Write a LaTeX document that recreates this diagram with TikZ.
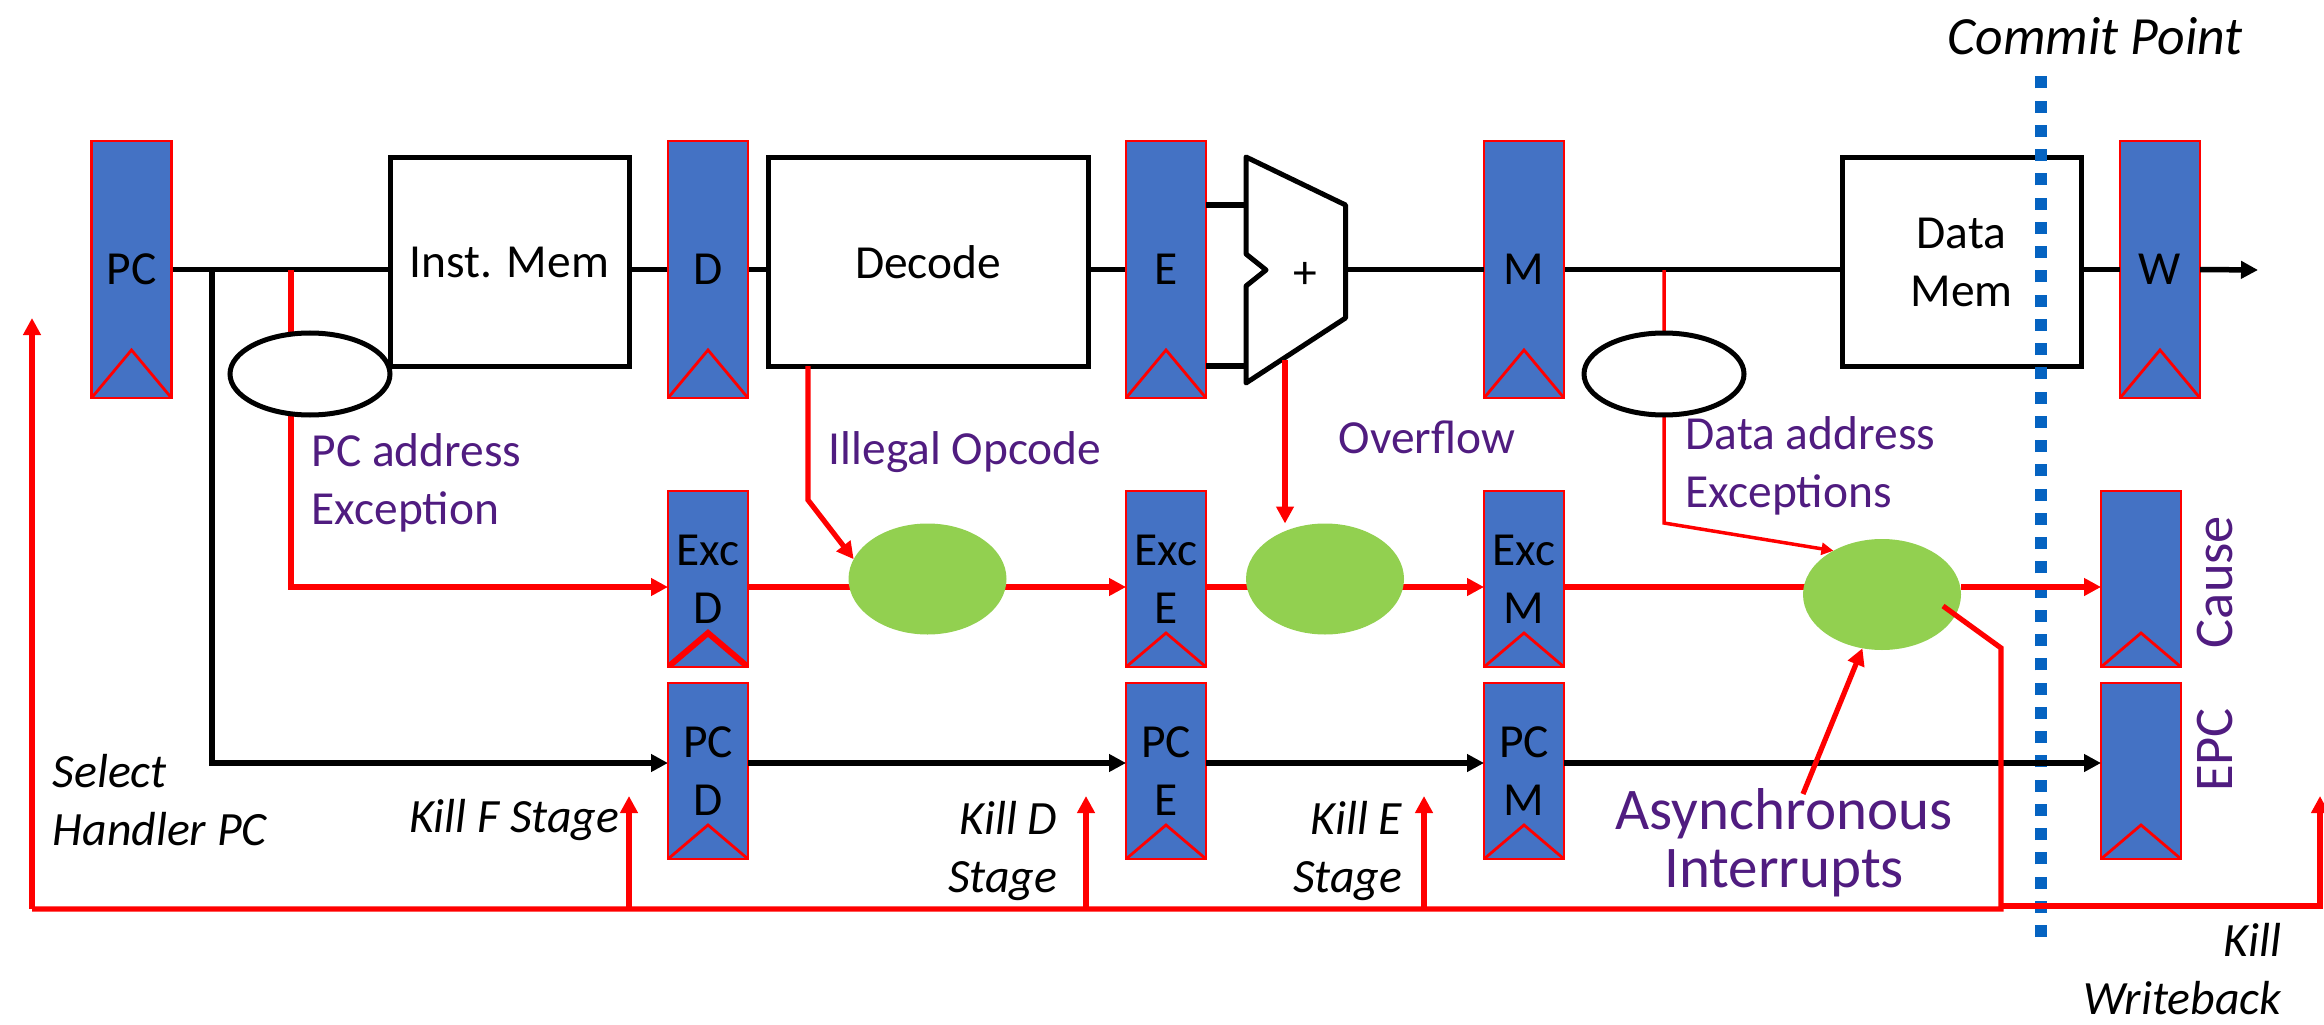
\documentclass[tikz,border=0pt]{standalone}
\usepackage{fontspec}
\setmainfont{Carlito}
\usetikzlibrary{positioning, arrows.meta, shapes.geometric, backgrounds}
\definecolor{regblue}{HTML}{4472C4}
\definecolor{okgreen}{HTML}{92D050}
\definecolor{note}{HTML}{501C80}
\definecolor{commitblue}{HTML}{0563C1}
\tikzset{
  >={Triangle[length=.17cm,width=.17cm]},
  txt/.style={font=\fontsize{13.5}{16.5}\selectfont, align=center, inner sep=0pt},
  clk/.style 2 args={path picture={
    \draw[red,line width=#2] (path picture bounding box.south west)
      -- ([yshift=#1]path picture bounding box.south)
      -- (path picture bounding box.south east);}},
  reg/.style={txt, rectangle, draw=red, line width=.8pt, fill=regblue, minimum width=.8cm, outer sep=0pt},
  topreg/.style={reg, minimum height=2.57cm, clk={.48cm}{.8pt}},
  lowreg/.style={reg, minimum height=1.76cm, clk={.34cm}{.8pt}},
  unit/.style={txt, rectangle, draw=black, line width=.05cm, fill=white, minimum height=2.08cm, outer sep=0pt},
  chk/.style={ellipse, draw=black, line width=.05cm, fill=white, minimum width=1.6cm, minimum height=.82cm, inner sep=0pt, outer sep=0pt},
  merge/.style={ellipse, fill=okgreen, minimum width=1.58cm, minimum height=1.11cm, inner sep=0pt, outer sep=0pt},
  wire/.style={black, line width=.055cm},
  redwire/.style={red, line width=.052cm},
  thinred/.style={red, line width=.035cm, >={Triangle[length=.12cm,width=.12cm]}},
  note/.style={txt, text=note},
  big note/.style={note, font=\fontsize{16.8}{16.5}\selectfont},
  side note/.style={note, font=\fontsize{15.5}{16.5}\selectfont, rotate=90},
  kill/.style={txt, font=\fontsize{13.6}{16.5}\selectfont\itshape}
}
\begin{document}
\begin{tikzpicture}[node distance=2cm,on grid]
  \useasboundingbox (0,0) rectangle (23.24,10.24);

  % registers
  \node[topreg] (pc) at (1.315,7.545) {PC};
  \node[topreg] (d) [right=5.765cm of pc] {D};
  \node[topreg] (e) [right=4.58cm of d] {E};
  \node[topreg] (m) [right=3.58cm of e] {M};
  \node[topreg] (w) [right=6.36cm of m] {W};
  \node[lowreg, clk={.34cm}{1.7pt}] (excd) [below=3.095cm of d] {Exc\\D};
  \node[lowreg] (exce) [below=3.095cm of e] {Exc\\E};
  \node[lowreg] (excm) [below=3.095cm of m] {Exc\\M};
  \node[lowreg] (cause) [right=6.17cm of excm] {};
  \node[lowreg] (pcd) [below=1.92cm of excd] {PC\\D};
  \node[lowreg] (pce) [below=1.92cm of exce] {PC\\E};
  \node[lowreg] (pcm) [below=1.92cm of excm] {PC\\M};
  \node[lowreg] (epc) [below=1.92cm of cause] {};

  % pipeline units
  \node[unit, minimum width=2.39cm] (imem) at (5.095,7.62) {Inst. Mem};
  \node[unit, minimum width=3.2cm] (decode) at (9.28,7.62) {Decode};
  \node[unit, minimum width=2.39cm] (dmem) at (19.615,7.62) {Data\\Mem};
  \node[chk] (pcchk) at (3.1,6.5) {};
  \node[chk] (datachk) at (16.64,6.5) {};
  \node[merge] (ovald) [right=2.195cm of excd] {};
  \node[merge] (ovale) [right=1.59cm of exce] {};
  \node[merge] (ovalm) [right=3.58cm of excm, yshift=-.155cm] {};

  \coordinate (pcfork) at (2.12,7.54);
  \coordinate (redfork) at (2.91,7.54);
  \coordinate (datafork) at (16.64,7.54);
  \coordinate (rowe) at (0,4.37);
  \coordinate (rowp) at (0,2.61);
  \coordinate (bus) at (0,1.15);
  \coordinate (busr) at (0,1.18);

  % adder
  \coordinate (alua) at (12.46,8.67);
  \coordinate (alub) at (13.455,8.19);
  \coordinate (aluc) at (13.455,7.06);
  \coordinate (alud) at (12.46,6.41);
  \coordinate (alue) at (12.46,7.38);
  \coordinate (aluf) at (12.66,7.54);
  \coordinate (alug) at (12.46,7.70);
  \draw[black, line width=.05cm, fill=white, line join=round] (alua) -- (alub) -- (aluc) -- (alud) -- (alue) -- (aluf) -- (alug) -- cycle;
  \node[txt] (plus) at (13.05,7.49) {+};

  % everything that runs behind the boxes
  \begin{scope}[on background layer]
    \path[wire]
      (pc.east) edge (imem.west |- pc)
      (imem.east |- pc) edge (d.west)
      (d.east) edge (decode.west |- d)
      (decode.east |- d) edge (e.west)
      (m.east) edge (dmem.west |- m);
    \draw[wire,->] (pcfork) |- (pcd.west |- rowp);
    \draw[redwire,->] (redfork) |- (excd.west |- rowe);
    \draw[thinred,->] (datafork) -- (16.64,5.01) -- (ovalm.138);
    \path[redwire]
      (excd.east |- rowe) edge (ovald.center |- rowe)
      (exce.east |- rowe) edge (ovale.center |- rowe)
      (excm.east |- rowe) edge (ovalm.center |- rowe);
    \path[redwire,->]
      (ovald.center |- rowe) edge (exce.west |- rowe)
      (ovale.center |- rowe) edge (excm.west |- rowe);
  \end{scope}

  \draw[wire] (e.east |- alub) -- (alub -| alua);
  \draw[wire] (e.east |- decode.south) -- (alud |- decode.south);
  \draw[wire] (aluc |- m) -- (m.west);
  \draw[wire] (dmem.east |- w) -- (w.west);
  \draw[wire,->] (w.east) -- (22.58,7.54);
  \draw[redwire,->] (decode.south -| 8.08,0) -- (8.08,5.24) -- (ovald.165);
  \draw[redwire,->] (12.85,6.64) -- (ovale.north -| 12.85,0);

  % commit line
  \coordinate (committop) at (20.41,9.49);
  \coordinate (commitbot) at (20.41,.87);
  \draw[commitblue, line width=.12cm, dash pattern=on .12cm off .1225cm] (commitbot) -- (committop);

  \draw[redwire,->] (ovalm.east |- rowe) -- (cause.west |- rowe);
  \draw[wire,->] (pcd.east |- rowp) -- (pce.west |- rowp);
  \draw[wire,->] (pce.east |- rowp) -- (pcm.west |- rowp);
  \draw[wire,->] (pcm.east |- rowp) -- (epc.west |- rowp);

  % kill lines
  \coordinate (hook) at (19.43,4.18);
  \coordinate (turn) at (20.01,3.76);
  \coordinate (killsel) at (.32,7.06);
  \coordinate (killf) at (6.29,2.28);
  \coordinate (killd) at (10.86,2.28);
  \coordinate (kille) at (14.24,2.28);
  \coordinate (killw) at (23.2,2.28);
  \draw[redwire] (hook) -- (turn) -- (turn |- bus) -- (bus -| killsel);
  \draw[redwire,->] (bus -| killsel) -- (killsel);
  \path[redwire,->]
    (killf |- bus) edge (killf)
    (killd |- bus) edge (killd)
    (kille |- bus) edge (kille);
  \draw[redwire,->] (turn |- busr) -- (killw |- busr) -- (killw);

  % labels
  \node[kill, font=\fontsize{15.3}{16.5}\selectfont\itshape] (commit) at (20.95,9.88) {Commit Point};
  \node[note, align=left, anchor=west] (lpcaddr) at (3.11,5.41) {PC address\\Exception};
  \node[note, anchor=west] (lillegal) at (8.28,5.72) {Illegal Opcode};
  \node[note, anchor=west] (loverflow) at (13.38,5.87) {Overflow};
  \node[note, align=left, anchor=west] (ldata) at (16.85,5.58) {Data address\\Exceptions};
  \node[big note] (lasync) at (17.84,1.81) {Asynchronous\\Interrupts};
  \node[side note] (lcause) at (22.15,4.42) {Cause};
  \node[side note] (lepc) at (22.15,2.74) {EPC};
  \node[kill, align=left, anchor=west] (lselect) at (.52,2.24) {Select\\Handler PC};
  \node[kill, anchor=east] (lkillf) at (6.2,2.04) {Kill F Stage};
  \node[kill, align=right, anchor=east] (lkilld) at (10.58,1.73) {Kill D\\Stage};
  \node[kill, align=right, anchor=east] (lkille) at (14.03,1.73) {Kill E\\Stage};
  \node[kill, align=right, anchor=east] (lkillw) at (22.82,.55) {Kill\\Writeback};

  \coordinate (asyncstart) at (18.03,2.30);
  \draw[redwire,->] (asyncstart) -- (ovalm.250);
\end{tikzpicture}
\end{document}
